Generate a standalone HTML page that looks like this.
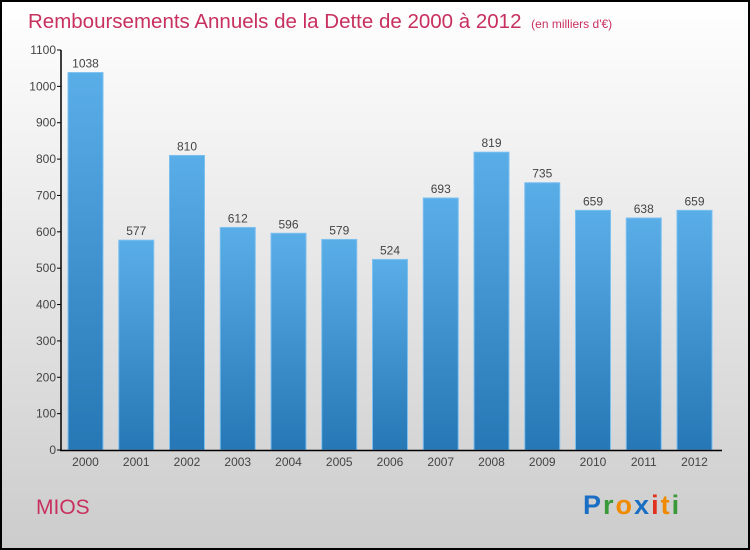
<!DOCTYPE html>
<html><head><meta charset="utf-8"><style>
body{margin:0}
svg{display:block;font-family:"Liberation Sans",sans-serif}
</style></head><body>
<svg id="c" width="750" height="550" viewBox="0 0 750 550">
<defs>
<linearGradient id="bg" x1="0" y1="0" x2="0" y2="1"><stop offset="0" stop-color="#ffffff"/><stop offset="1" stop-color="#cccccc"/></linearGradient>
<linearGradient id="bar" x1="0" y1="0" x2="0" y2="1"><stop offset="0" stop-color="#5aaee8"/><stop offset="1" stop-color="#2677b5"/></linearGradient>
</defs>
<rect x="1" y="1" width="748" height="548" fill="url(#bg)" stroke="#000" stroke-width="2"/>
<text x="28" y="28" font-size="20.5" fill="#c8305f">Remboursements Annuels de la Dette de 2000 à 2012 <tspan font-size="12" dx="4">(en milliers d'€)</tspan></text>
<text x="36" y="514" font-size="21" fill="#c8305f">MIOS</text>
<text x="583" y="514" font-size="27" font-weight="bold" letter-spacing="2"><tspan fill="#1a6fc4">P</tspan><tspan fill="#3a9a3a">r</tspan><tspan fill="#f08a00">o</tspan><tspan fill="#1a6fc4">x</tspan><tspan fill="#e03020">i</tspan><tspan fill="#f08a00">t</tspan><tspan fill="#3a9a3a">i</tspan></text>
<g id="plot"></g>
</svg>
<script>
const years=["2000","2001","2002","2003","2004","2005","2006","2007","2008","2009","2010","2011","2012"];
const values=[1038,577,810,612,596,579,524,693,819,735,659,638,659];
const ticks=[0,100,200,300,400,500,600,700,800,900,1000,1100];
const NS="http://www.w3.org/2000/svg";
const g=document.getElementById('plot');
const y=v=>450-v*400/1100;
const xc=i=>85.5+i*50.75;
function el(t,a,txt){const e=document.createElementNS(NS,t);for(const k in a)e.setAttribute(k,a[k]);if(txt!=null)e.textContent=txt;g.appendChild(e);return e;}
values.forEach((v,i)=>{
 const r=el('rect',{x:xc(i)-17.5,y:y(v),width:35,height:450-y(v),fill:'url(#bar)',stroke:'#7cc0f0','stroke-width':1});
 
 
 const t=el('text',{x:xc(i),y:y(v)-5,'font-size':12,fill:'#444','text-anchor':'middle'},String(v));
 
 
 const xl=el('text',{x:xc(i),y:466,'font-size':12,fill:'#444','text-anchor':'middle'},years[i]);
 
 
});
ticks.forEach(v=>{
 const l=el('line',{x1:57,x2:61,y1:y(v),y2:y(v),stroke:'#000'});
 
 
 const t=el('text',{x:56,y:y(v)+4,'font-size':12,fill:'#444','text-anchor':'end'},String(v));
 
 
});
const ya=el('line',{x1:61,x2:61,y1:y(1100),y2:451,stroke:'#000','stroke-width':1.5});


const xa=el('line',{x1:60,x2:722,y1:450.5,y2:450.5,stroke:'#000','stroke-width':1.5});


</script>
</body></html>
